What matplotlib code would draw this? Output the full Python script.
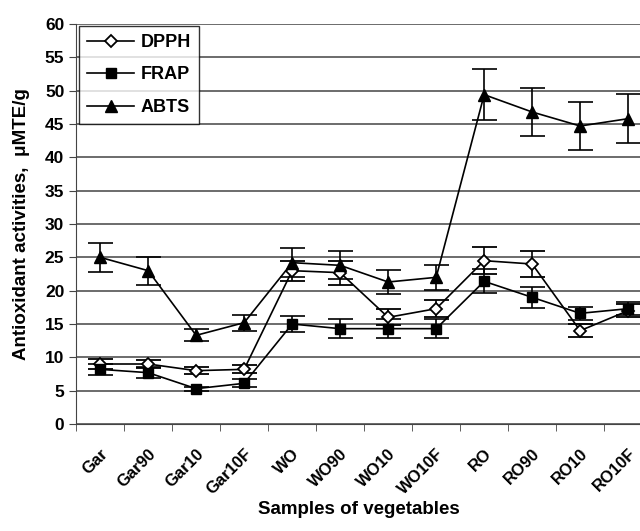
import numpy as np
import matplotlib.pyplot as plt

samples = ['Gar', 'Gar90', 'Gar10', 'Gar10F', 'WO', 'WO90', 'WO10', 'WO10F',
           'RO', 'RO90', 'RO10', 'RO10F']
dpph = [9.0, 9.0, 8.0, 8.2, 23.0, 22.7, 16.0, 17.3, 24.5, 24.0, 14.0, 17.0]
dpph_err = [0.7, 0.6, 0.5, 0.6, 1.5, 1.8, 1.2, 1.3, 2.0, 2.0, 1.0, 1.0]
frap = [8.2, 7.7, 5.3, 6.1, 15.0, 14.3, 14.3, 14.3, 21.4, 19.0, 16.6, 17.3]
frap_err = [0.8, 0.8, 0.3, 0.6, 1.2, 1.4, 1.4, 1.4, 1.8, 1.6, 1.0, 1.0]
abts = [25.0, 23.0, 13.3, 15.2, 24.2, 23.8, 21.3, 22.0, 49.4, 46.8, 44.7, 45.8]
abts_err = [2.2, 2.1, 0.9, 1.2, 2.2, 2.1, 1.8, 1.9, 3.8, 3.6, 3.6, 3.7]

plt.rcParams['font.family'] = ['Liberation Sans', 'DejaVu Sans']
plt.rcParams['font.weight'] = 'bold'

fig = plt.figure(figsize=(6.4, 5.31), dpi=100)
ax = fig.add_axes([0.119, 0.2015, 0.9, 0.7533])

x = np.arange(len(samples))
common = dict(color='black', lw=1.2, capsize=9, elinewidth=1.2, capthick=1.2)
c1 = ax.errorbar(x, dpph, yerr=dpph_err, marker='D', mfc='white', mec='black',
                 mew=1.3, ms=6.5, label='DPPH', **common)
c2 = ax.errorbar(x, frap, yerr=frap_err, marker='s', mfc='black', ms=7.5,
                 label='FRAP', **common)
c3 = ax.errorbar(x, abts, yerr=abts_err, marker='^', mfc='black', ms=9,
                 label='ABTS', **common)

ax.set_xlim(-0.5, len(samples) - 0.5)
ax.set_ylim(0, 60)
ax.set_yticks(range(0, 61, 5))
ax.yaxis.grid(True, color='#444444', lw=1.1)
ax.set_axisbelow(True)
for s in ['top', 'right']:
    ax.spines[s].set_visible(False)
ax.spines['left'].set_color('#444444')
ax.spines['bottom'].set_color('#444444')

ax.set_xticks(x)
ax.set_xticklabels(samples, rotation=45, ha='right', rotation_mode='anchor',
                   fontsize=12, fontweight='bold')
ax.tick_params(axis='x', which='major', length=0, pad=16)
ax.set_xticks(np.arange(-0.5, len(samples), 1), minor=True)
ax.tick_params(axis='x', which='minor', length=5, direction='out', color='#444444')
ax.tick_params(axis='y', length=5, color='#444444', labelsize=12.5)
for lab in ax.get_yticklabels():
    lab.set_fontweight('bold')

ax.set_ylabel('Antioxidant activities,  \u03bcMTE/g', fontsize=13.5,
              fontweight='bold', va='center')
ax.yaxis.set_label_coords(-0.095, 0.5)
ax.set_xlabel('Samples of vegetables', fontsize=13.5, fontweight='bold', va='center')
ax.xaxis.set_label_coords(0.49, -0.213)

leg = ax.legend([c1[0], c2[0], c3[0]], ['DPPH', 'FRAP', 'ABTS'],
                loc='upper left', bbox_to_anchor=(0.005, 0.995), fontsize=13,
                frameon=True, fancybox=False, edgecolor='black', handlelength=2.6,
                borderpad=0.45, labelspacing=0.85, handletextpad=0.35,
                borderaxespad=0.0)
leg.get_frame().set_linewidth(1.0)
for t in leg.get_texts():
    t.set_fontweight('bold')

fig.savefig('out.png', dpi=100)
